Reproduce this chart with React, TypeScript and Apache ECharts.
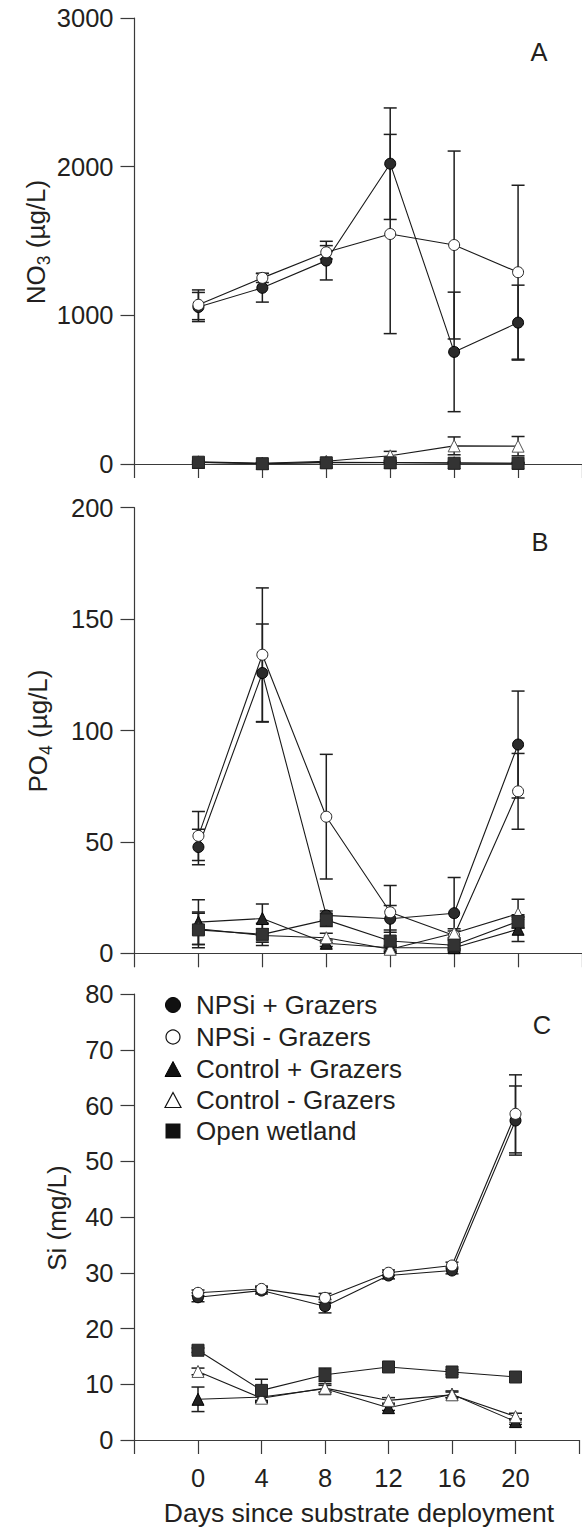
import { useEffect, useRef } from 'react';
import * as echarts from 'echarts';

// ---------- data ----------
const days = [0, 4, 8, 12, 16, 20];
const xTickLabels = ['0', '4', '8', '12', '16', '20'];
const seriesNames = ['NPSi + Grazers', 'NPSi - Grazers', 'Control + Grazers', 'Control - Grazers', 'Open wetland'];

// Panel A: NO3 (µg/L)
const no3NpsiPlus = [1056, 1185, 1368, 2020, 754, 951];
const no3NpsiPlusErr = [98, 96, 130, 375, 402, 252];
const no3NpsiMinus = [1071, 1252, 1424, 1547, 1473, 1290];
const no3NpsiMinusErr = [100, 31, 45, 670, 632, 585];
const no3CtrlPlus = [10, 3, 12, 10, 8, 5];
const no3CtrlPlusErr = [5, 5, 5, 10, 8, 5];
const no3CtrlMinus = [15, 5, 18, 55, 122, 120];
const no3CtrlMinusErr = [8, 5, 10, 30, 60, 65];
const no3Open = [12, 2, 8, 8, 5, 5];
const no3OpenErr = [5, 3, 5, 5, 5, 5];

// Panel B: PO4 (µg/L)
const po4NpsiPlus = [47.7, 125.8, 17, 15.5, 18, 93.7];
const po4NpsiPlusErr = [8, 22, 2, 6, 16, 24];
const po4NpsiMinus = [52.7, 134, 61.3, 18.4, 8, 72.7];
const po4NpsiMinusErr = [11, 30, 28, 12, 2, 17];
const po4CtrlPlus = [14, 15.6, 4.5, 2.5, 2.5, 10.8];
const po4CtrlPlusErr = [10, 6.5, 1.5, 1, 1, 5.5];
const po4CtrlMinus = [11, 8, 7, 1.8, 9, 17.8];
const po4CtrlMinusErr = [7, 3, 2, 1, 2, 6.5];
const po4Open = [10.5, 8.5, 15, 5.5, 3.6, 14.3];
const po4OpenErr = [8, 5, 3, 5, 3, 3];

// Panel C: Si (mg/L)
const siNpsiPlus = [25.6, 26.8, 24, 29.5, 30.4, 57.3];
const siNpsiPlusErr = [0.8, 0.6, 1.2, 0.6, 0.6, 6.2];
const siNpsiMinus = [26.4, 27.1, 25.5, 30, 31.3, 58.5];
const siNpsiMinusErr = [0.5, 0.5, 0.8, 0.5, 0.6, 7];
const siCtrlPlus = [7.3, 7.7, 9.2, 5.8, 8.2, 3.3];
const siCtrlPlusErr = [2.2, 0.6, 0.6, 0.5, 0.6, 0.5];
const siCtrlMinus = [12.3, 7.5, 9.3, 7.1, 8.1, 4.2];
const siCtrlMinusErr = [0.6, 0.8, 0.8, 0.5, 0.5, 0.6];
const siOpen = [16.1, 8.9, 11.7, 13.1, 12.2, 11.3];
const siOpenErr = [0.4, 2, 1.2, 0.4, 0.4, 0.4];

// ---------- styles ----------
const FONT = "'Liberation Sans', Arial, Helvetica, sans-serif";
const TEXT = '#231f20';
const AXIS = '#3a3a3a';

const markers = [
  { symbol: 'circle', size: 11, fill: '#2b2b2b', stroke: '#000' },
  { symbol: 'circle', size: 11, fill: '#ffffff', stroke: '#222' },
  { symbol: 'triangle', size: 12, fill: '#222', stroke: '#000' },
  { symbol: 'triangle', size: 12, fill: '#ffffff', stroke: '#555' },
  { symbol: 'rect', size: 12, fill: '#333', stroke: '#222' },
];

const panels = [
  {
    values: [no3NpsiPlus, no3NpsiMinus, no3CtrlPlus, no3CtrlMinus, no3Open],
    errors: [no3NpsiPlusErr, no3NpsiMinusErr, no3CtrlPlusErr, no3CtrlMinusErr, no3OpenErr],
    max: 3000, interval: 1000, top: 18, height: 446,
  },
  {
    values: [po4NpsiPlus, po4NpsiMinus, po4CtrlPlus, po4CtrlMinus, po4Open],
    errors: [po4NpsiPlusErr, po4NpsiMinusErr, po4CtrlPlusErr, po4CtrlMinusErr, po4OpenErr],
    max: 200, interval: 50, top: 507.7, height: 445.6,
  },
  {
    values: [siNpsiPlus, siNpsiMinus, siCtrlPlus, siCtrlMinus, siOpen],
    errors: [siNpsiPlusErr, siNpsiMinusErr, siCtrlPlusErr, siCtrlMinusErr, siOpenErr],
    max: 80, interval: 10, top: 994, height: 446,
  },
];

function buildOption() {
  const grid: any[] = [];
  const xAxis: any[] = [];
  const yAxis: any[] = [];
  const series: any[] = [];

  panels.forEach((p, pi) => {
    grid.push({ left: 134.5, right: 0, top: p.top, height: p.height, containLabel: false });
    xAxis.push({
      type: 'value', gridIndex: pi, min: -4, max: 24, interval: 4,
      axisLine: { show: true, onZero: false, lineStyle: { color: AXIS, width: 1.2 } },
      axisTick: { show: true, inside: false, length: 14, lineStyle: { color: AXIS, width: 1.2 } },
      axisLabel: {
        show: pi === 2, margin: 25, fontSize: 25.5, color: TEXT, fontFamily: FONT,
        formatter: (v: number) => { const i = days.indexOf(v); return i >= 0 ? xTickLabels[i] : ''; },
      },
      splitLine: { show: false },
    });
    yAxis.push({
      type: 'value', gridIndex: pi, min: 0, max: p.max, interval: p.interval,
      axisLine: { show: true, onZero: false, lineStyle: { color: AXIS, width: 1.2 } },
      axisTick: { show: true, inside: false, length: 14, lineStyle: { color: AXIS, width: 1.2 } },
      axisLabel: { margin: 21, fontSize: 25.5, color: TEXT, fontFamily: FONT, formatter: (v: number) => String(v) },
      splitLine: { show: false },
    });

    // error bars
    p.values.forEach((vals, si) => {
      const errs = p.errors[si];
      series.push({
        type: 'custom', name: seriesNames[si] + ' error', xAxisIndex: pi, yAxisIndex: pi,
        coordinateSystem: 'cartesian2d', clip: true, z: 1, silent: true,
        encode: { x: 0, y: [1, 2] },
        data: days.map((d, i) => [d, vals[i] - errs[i], vals[i] + errs[i]]),
        renderItem: (params: any, api: any) => {
          const x = api.value(0);
          const lo = api.coord([x, api.value(1)]);
          const hi = api.coord([x, api.value(2)]);
          const w = 6.5;
          const st = { stroke: '#1e1e1e', lineWidth: 1.5 };
          return {
            type: 'group',
            children: [
              { type: 'line', shape: { x1: hi[0], y1: hi[1], x2: lo[0], y2: lo[1] }, style: st },
              { type: 'line', shape: { x1: hi[0] - w, y1: hi[1], x2: hi[0] + w, y2: hi[1] }, style: st },
              { type: 'line', shape: { x1: lo[0] - w, y1: lo[1], x2: lo[0] + w, y2: lo[1] }, style: st },
            ],
          };
        },
      });
    });

    // lines with markers
    p.values.forEach((vals, si) => {
      const m = markers[si];
      series.push({
        type: 'line', name: seriesNames[si], xAxisIndex: pi, yAxisIndex: pi, z: 3,
        data: days.map((d, i) => [d, vals[i]]),
        symbol: m.symbol, symbolSize: m.size, showSymbol: true,
        lineStyle: { color: '#1a1a1a', width: 1.1 },
        itemStyle: { color: m.fill, borderColor: m.stroke, borderWidth: 1 },
        emphasis: { disabled: true },
      });
    });
  });

  const graphic: any[] = [];
  // panel letters
  [['A', 539, 52], ['B', 540, 542], ['C', 542, 1025]].forEach(([t, x, y]) => {
    graphic.push({
      type: 'text', x, y,
      style: { text: t, fontSize: 25.5, fontFamily: FONT, fill: TEXT, align: 'center', verticalAlign: 'middle' },
    });
  });

  // y axis names (rotated, with subscripts)
  const richBase = {
    m: { fontSize: 26, lineHeight: 34, fontFamily: FONT, fill: TEXT, verticalAlign: 'middle' },
    s: { fontSize: 17.5, lineHeight: 17, fontFamily: FONT, fill: TEXT, verticalAlign: 'bottom' },
  };
  const yNames: [string, number, number][] = [
    ['{m|NO}{s|3}{m| (µg/L)}', 36, 242],
    ['{m|PO}{s|4}{m| (µg/L)}', 38, 731],
    ['{m|Si (mg/L)}', 57, 1218],
  ];
  yNames.forEach(([t, x, y]) => {
    graphic.push({
      type: 'text', x, y, rotation: Math.PI / 2,
      style: { text: t, rich: richBase, align: 'center', verticalAlign: 'middle', fontFamily: FONT, fontSize: 26, fill: TEXT },
    });
  });

  // x axis title
  graphic.push({
    type: 'text', x: 359, y: 1513,
    style: { text: 'Days since substrate deployment', fontSize: 26.5, fontFamily: FONT, fill: TEXT, align: 'center', verticalAlign: 'middle' },
  });

  // legend
  const legX = 173, legTextX = 196;
  const legY = [1005, 1037, 1069, 1100, 1131];
  const s = 15;
  legY.forEach((cy, i) => {
    const kind = i;
    if (kind === 0) graphic.push({ type: 'circle', shape: { cx: legX, cy, r: 7.5 }, style: { fill: '#111', stroke: '#000', lineWidth: 1 } });
    if (kind === 1) graphic.push({ type: 'circle', shape: { cx: legX, cy, r: 7 }, style: { fill: '#fff', stroke: '#111', lineWidth: 1.2 } });
    if (kind === 2 || kind === 3) graphic.push({
      type: 'polygon',
      shape: { points: [[legX, cy - s / 2], [legX + s / 2 + 0.5, cy + s / 2], [legX - s / 2 - 0.5, cy + s / 2]] },
      style: kind === 2 ? { fill: '#111', stroke: '#000', lineWidth: 1 } : { fill: '#fff', stroke: '#111', lineWidth: 1.2 },
    });
    if (kind === 4) graphic.push({ type: 'rect', shape: { x: legX - s / 2, y: cy - s / 2, width: s, height: s }, style: { fill: '#111' } });
    graphic.push({
      type: 'text', x: legTextX, y: cy,
      style: { text: seriesNames[i], fontSize: 26, fontFamily: FONT, fill: TEXT, align: 'left', verticalAlign: 'middle' },
    });
  });

  return {
    animation: false,
    backgroundColor: '#ffffff',
    textStyle: { fontFamily: FONT },
    grid, xAxis, yAxis, series, graphic,
  };
}

export default function App() {
  const ref = useRef<HTMLDivElement>(null);
  useEffect(() => {
    if (!ref.current) return;
    const chart = echarts.init(ref.current, undefined, { renderer: 'svg' });
    chart.setOption(buildOption() as any);
    return () => chart.dispose();
  }, []);
  return (
    <div
      ref={ref}
      style={{ position: 'absolute', left: 0, top: 0, width: 582, height: 1530, background: '#fff' }}
    />
  );
}
